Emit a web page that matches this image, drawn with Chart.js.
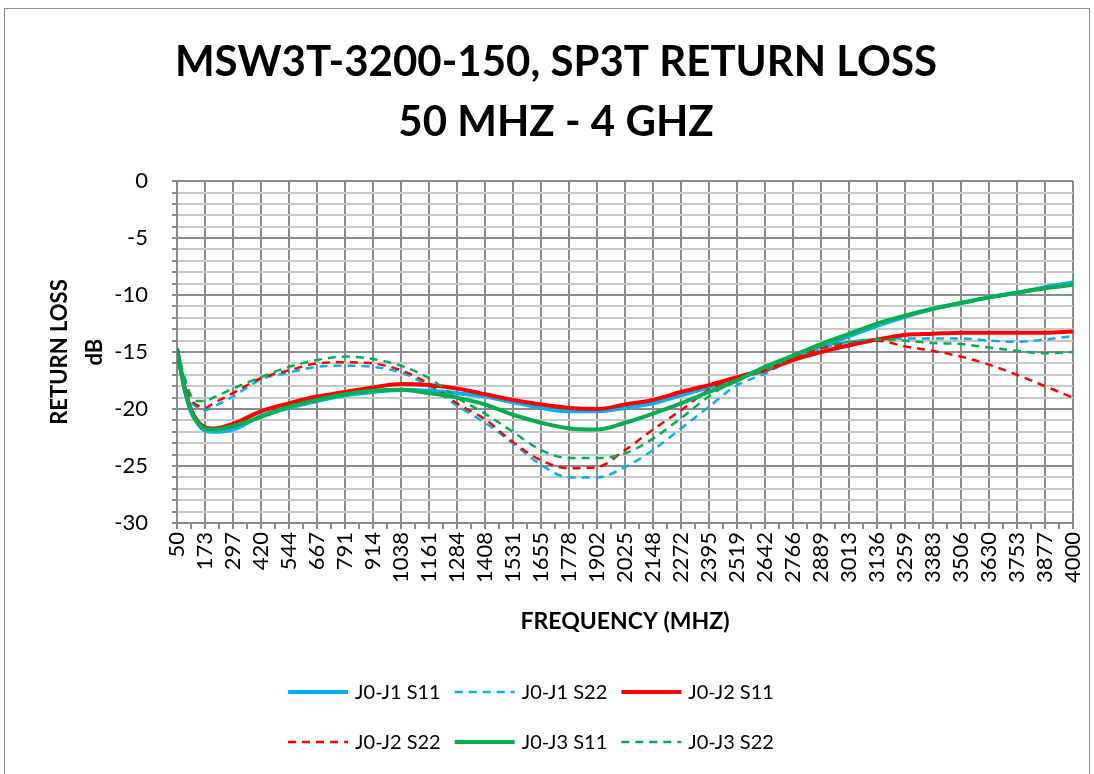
<!DOCTYPE html>
<html>
<head>
<meta charset="utf-8">
<script src="https://cdn.jsdelivr.net/npm/chart.js@4/dist/chart.umd.min.js"></script>
<style>
  html, body { margin: 0; padding: 0; background: #fff; }
  #wrap { width: 1094px; height: 774px; position: relative; }
</style>
</head>
<body>
<div id="wrap"><canvas id="rl" width="1094" height="774"></canvas></div>
<script>
// frequencies (MHz) the values were read at
const freqs = [50, 80, 111, 142, 173, 210, 297, 420, 544, 667, 791, 914, 1038, 1161, 1284, 1408, 1531, 1655, 1778, 1902, 2025, 2148, 2272, 2395, 2519, 2642, 2766, 2889, 3013, 3136, 3259, 3383, 3506, 3630, 3753, 3877, 4000];

// x axis tick labels
const tickLabels = [50, 173, 297, 420, 544, 667, 791, 914, 1038, 1161, 1284, 1408, 1531, 1655, 1778, 1902, 2025, 2148, 2272, 2395, 2519, 2642, 2766, 2889, 3013, 3136, 3259, 3383, 3506, 3630, 3753, 3877, 4000];

const j1S11 = [-14.7, -18.0, -20.2, -21.3, -21.9, -22.0, -21.8, -20.6, -19.9, -19.3, -18.8, -18.5, -18.3, -18.4, -18.6, -18.9, -19.4, -19.9, -20.2, -20.2, -19.9, -19.5, -18.8, -18.1, -17.3, -16.4, -15.5, -14.5, -13.6, -12.7, -11.9, -11.2, -10.7, -10.2, -9.8, -9.3, -8.9];
const j1S22 = [-14.7, -17.6, -19.3, -19.9, -20.1, -19.8, -18.9, -17.4, -16.8, -16.3, -16.2, -16.3, -16.8, -18.0, -19.7, -21.2, -23.0, -24.9, -26.0, -26.0, -25.1, -23.6, -21.7, -19.8, -17.9, -16.9, -15.6, -14.7, -14.1, -13.9, -13.8, -13.8, -13.8, -14.0, -14.1, -13.9, -13.6];
const j2S11 = [-14.7, -17.8, -20.0, -21.1, -21.6, -21.7, -21.3, -20.2, -19.5, -18.9, -18.5, -18.1, -17.8, -17.9, -18.2, -18.7, -19.2, -19.6, -19.9, -20.0, -19.6, -19.2, -18.5, -17.9, -17.2, -16.6, -15.7, -15.0, -14.4, -13.9, -13.5, -13.4, -13.3, -13.3, -13.3, -13.3, -13.2];
const j2S22 = [-14.7, -17.4, -19.1, -19.7, -19.9, -19.5, -18.6, -17.3, -16.6, -16.0, -15.9, -16.0, -16.6, -17.8, -19.5, -20.9, -22.9, -24.5, -25.2, -25.1, -23.6, -21.8, -20.1, -18.3, -17.2, -16.4, -15.5, -14.7, -14.2, -14.0, -14.5, -14.9, -15.4, -16.1, -17.0, -18.0, -19.0];
const j3S11 = [-14.7, -17.9, -20.1, -21.2, -21.7, -21.8, -21.5, -20.7, -19.8, -19.2, -18.7, -18.4, -18.3, -18.6, -19.0, -19.6, -20.5, -21.2, -21.7, -21.8, -21.2, -20.4, -19.5, -18.5, -17.5, -16.3, -15.3, -14.3, -13.4, -12.5, -11.8, -11.2, -10.7, -10.2, -9.8, -9.4, -9.1];
const j3S22 = [-14.7, -17.0, -18.8, -19.3, -19.3, -19.0, -18.2, -17.2, -16.3, -15.7, -15.4, -15.6, -16.2, -17.3, -19.0, -20.4, -22.0, -23.6, -24.3, -24.3, -23.9, -22.6, -20.8, -18.9, -17.4, -16.6, -15.4, -14.5, -14.1, -13.9, -14.0, -14.2, -14.3, -14.6, -14.9, -15.1, -15.0];

const BLUE = "#00B0F0", RED = "#FF0000", GREEN = "#00B050";
const FONT = "Lato";

function series(label, vals, color, dashed) {
  return {
    label: label,
    data: freqs.map((f, i) => ({ x: f, y: vals[i] })),
    borderColor: color,
    backgroundColor: color,
    borderWidth: dashed ? 2.5 : 4,
    borderDash: dashed ? [8, 6] : [],
    pointRadius: 0,
    cubicInterpolationMode: "monotone",
    fill: false,
  };
}

const datasets = [
  series("J0-J1 S11", j1S11, BLUE, false),
  series("J0-J1 S22", j1S22, BLUE, true),
  series("J0-J2 S11", j2S11, RED, false),
  series("J0-J2 S22", j2S22, RED, true),
  series("J0-J3 S11", j3S11, GREEN, false),
  series("J0-J3 S22", j3S22, GREEN, true),
];
// later series on top, like the original
datasets.forEach((d, i) => (d.order = datasets.length - i));

// legend in two rows of three, plus the outer frame
const legendRows = {
  id: "legendRows",
  afterDraw(chart) {
    const ctx = chart.ctx;
    ctx.save();
    ctx.strokeStyle = "#8c8c8c";
    ctx.lineWidth = 1;
    ctx.strokeRect(4.5, 8.5, 1085, 800);

    ctx.font = "20px " + FONT;
    ctx.textBaseline = "middle";
    ctx.fillStyle = "#000";
    const lineLen = 60, gapText = 7, gapItem = 14;
    const rows = [datasets.slice(0, 3), datasets.slice(3, 6)];
    const rowY = [692, 742];
    rows.forEach((row, r) => {
      const widths = row.map((d) => lineLen + gapText + ctx.measureText(d.label).width);
      const total = widths.reduce((a, b) => a + b, 0) + gapItem * (row.length - 1);
      let x = 531 - total / 2;
      row.forEach((d, k) => {
        ctx.beginPath();
        ctx.strokeStyle = d.borderColor;
        ctx.lineWidth = d.borderWidth;
        ctx.setLineDash(d.borderDash);
        ctx.moveTo(x, rowY[r]);
        ctx.lineTo(x + lineLen, rowY[r]);
        ctx.stroke();
        ctx.setLineDash([]);
        ctx.fillText(d.label, x + lineLen + gapText, rowY[r] + 1);
        x += widths[k] + gapItem;
      });
    });
    ctx.restore();
  },
};

new Chart(document.getElementById("rl"), {
  type: "line",
  data: { datasets: datasets },
  plugins: [legendRows],
  options: {
    responsive: false,
    animation: false,
    layout: { padding: { left: 39, right: 21, top: 0, bottom: 134 } },
    plugins: {
      legend: { display: false },
      tooltip: { enabled: false },
      title: {
        display: true,
        text: ["MSW3T-3200-150, SP3T RETURN LOSS", "50 MHZ - 4 GHZ"],
        color: "#000",
        font: { family: FONT, size: 42, weight: "bold", lineHeight: 1.43 },
        padding: { top: 32, bottom: 29 },
      },
    },
    scales: {
      x: {
        type: "linear",
        min: 50,
        max: 4000,
        afterBuildTicks(scale) {
          const t = [];
          tickLabels.forEach((v, i) => {
            t.push({ value: v });
            if (i < tickLabels.length - 1) t.push({ value: (v + tickLabels[i + 1]) / 2 });
          });
          scale.ticks = t;
        },
        afterFit(scale) {
          scale.height = 117;
          scale.paddingRight = 0;
        },
        ticks: {
          autoSkip: false,
          minRotation: 90,
          maxRotation: 90,
          padding: 3,
          color: "#000",
          font: { family: FONT, size: 22 },
          callback: (v) => (tickLabels.includes(v) ? String(v) : ""),
        },
        grid: {
          color: (c) => (c.tick && tickLabels.includes(c.tick.value) ? "#8c8c8c" : "rgba(0,0,0,0)"),
          tickColor: "#8c8c8c",
          lineWidth: 2,
          tickLength: 6,
        },
        border: { color: "#8c8c8c", width: 2 },
        title: {
          display: true,
          text: "FREQUENCY (MHZ)",
          color: "#000",
          font: { family: FONT, size: 23, weight: "bold", lineHeight: 1.2 },
          padding: { top: 5, bottom: 5 },
        },
      },
      y: {
        min: -30,
        max: 0,
        afterFit(scale) { scale.width = 177 - 39; },
        ticks: {
          stepSize: 1,
          autoSkip: false,
          maxTicksLimit: 40,
          padding: 24,
          color: "#000",
          font: { family: FONT, size: 22 },
          callback: (v) => (v % 5 === 0 ? String(v) : ""),
        },
        grid: {
          color: (c) => (c.tick && c.tick.value % 5 === 0 ? "#8c8c8c" : "#c8c8c8"),
          tickColor: "#8c8c8c",
          lineWidth: 2,
          tickLength: 5,
        },
        border: { color: "#8c8c8c", width: 2 },
        title: {
          display: true,
          text: ["RETURN LOSS", "dB"],
          color: "#000",
          font: { family: FONT, size: 22, weight: "bold", lineHeight: 1.6 },
          padding: { top: 3, bottom: 0 },
        },
      },
    },
  },
});
</script>
</body>
</html>
